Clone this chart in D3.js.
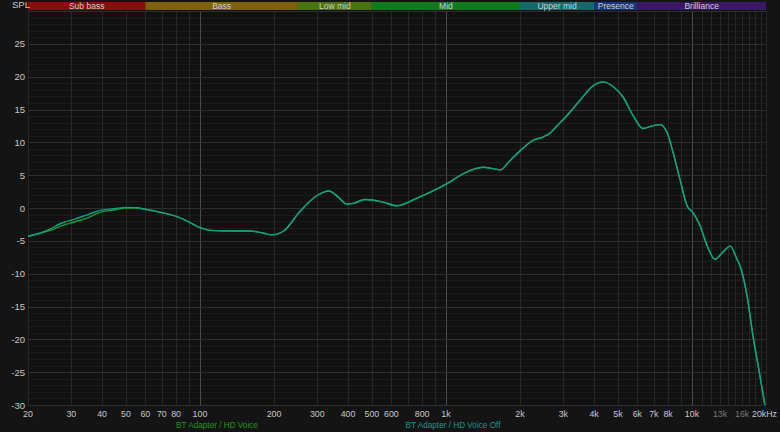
<!DOCTYPE html>
<html><head><meta charset="utf-8">
<script src="https://cdn.jsdelivr.net/npm/d3@7"></script>
<style>body{margin:0;background:#141414;}svg{display:block;font-family:"Liberation Sans",Arial,sans-serif;}</style>
</head><body><svg id="c" width="780" height="432"></svg>
<script>
const bands = [
  {name:"Sub bass", from:20, to:60, color:"#8a0c0c"},
  {name:"Bass", from:60, to:250, color:"#7c620c"},
  {name:"Low mid", from:250, to:500, color:"#4a7412"},
  {name:"Mid", from:500, to:2000, color:"#127a1c"},
  {name:"Upper mid", from:2000, to:4000, color:"#136a66"},
  {name:"Presence", from:4000, to:6000, color:"#16357a"},
  {name:"Brilliance", from:6000, to:20000, color:"#3a1866"}
];
const xTicks = [20,30,40,50,60,70,80,100,200,300,400,500,600,800,1000,2000,3000,4000,5000,6000,7000,8000,10000,13000,16000,20000];
const xTickLabels = ["20","30","40","50","60","70","80","100","200","300","400","500","600","800","1k","2k","3k","4k","5k","6k","7k","8k","10k","13k","16k","20kHz"];
const dimTicks = ["13k","16k"];
const yTicks = [-30,-25,-20,-15,-10,-5,0,5,10,15,20,25];
const freqOff = [20,24.6,27,31,35,39,45,50,55,60,70,79,90,100,110,132,160,180,196,219,254,299,335,364,396,420,469,555,632,763,886,1010,1172,1414,1550,1659,1820,2000,2258,2480,2648,2826,3106,3508,3961,4349,4777,5245,5759,6325,6882,7414,7920,8376,8934,9550,10100,10790,11510,12406,13372,14290,15250,15680,16750,17710,18900,20000];
const splOff = [-4.3,-3.2,-2.4,-1.7,-1.0,-0.4,-0.1,0.1,0.05,-0.2,-0.7,-1.2,-2.1,-3.0,-3.4,-3.5,-3.5,-3.8,-4.1,-3.5,-0.6,1.9,2.6,1.7,0.6,0.7,1.3,0.9,0.35,1.5,2.6,3.7,5.2,6.2,6.0,5.8,7.2,8.7,10.3,10.8,11.4,12.5,14.1,16.4,18.6,19.2,18.5,16.9,14.1,12.1,12.5,12.7,11.5,8.5,4.4,0.35,-0.7,-2.7,-5.7,-7.8,-6.7,-5.8,-7.8,-8.8,-13.4,-19.5,-25.6,-31];
const freqOn = freqOff;
const splOn = [-4.3,-3.4,-2.8,-2.1,-1.5,-0.7,-0.3,0.0,0.0,-0.2,-0.7,-1.2,-2.1,-3.0,-3.4,-3.5,-3.5,-3.8,-4.1,-3.5,-0.6,1.9,2.6,1.7,0.6,0.7,1.3,0.9,0.35,1.5,2.6,3.7,5.2,6.2,6.0,5.8,7.2,8.7,10.3,10.8,11.4,12.5,14.1,16.4,18.6,19.2,18.5,16.9,14.1,12.1,12.5,12.7,11.5,8.5,4.4,0.35,-0.7,-2.7,-5.7,-7.8,-6.7,-5.8,-7.8,-8.8,-13.4,-19.5,-25.6,-31];
const series = [
  {name:"BT Adapter / HD Voice", f:freqOn, v:splOn, color:"#16a02e"},
  {name:"BT Adapter / HD Voice Off", f:freqOff, v:splOff, color:"#10a088"}
];

const svg = d3.select("#c");
const L=28,R=766,T=11,B=405;
const x = d3.scaleLog().domain([20,20000]).range([L,R]);
const y = d3.scaleLinear().domain([-30,30]).range([B,T]);

svg.append("rect").attr("x",L).attr("y",T).attr("width",R-L).attr("height",B-T).attr("fill","#111111");

const g = svg.append("g");
d3.range(-30,31,1).forEach(v=>{
  if(v%5!==0) g.append("line").attr("x1",L).attr("x2",R).attr("y1",Math.round(y(v))+0.5).attr("y2",Math.round(y(v))+0.5).attr("stroke","#1b1b1b");
});
const vgrid=[];
[10,100,1000,10000].forEach(d=>{for(let k=1;k<10;k++){const f=d*k;if(f>=20&&f<=20000)vgrid.push(f);}});
[11000,12000,13000,14000,15000,16000,17000,18000,19000,20000].forEach(f=>vgrid.push(f));
vgrid.forEach(f=>{
  const major=[100,1000,10000].includes(f);
  g.append("line").attr("x1",Math.round(x(f))+0.5).attr("x2",Math.round(x(f))+0.5).attr("y1",T).attr("y2",B)
   .attr("stroke",major?"#4a4a4a":"#262626");
});
d3.range(-30,31,5).forEach(v=>{
  g.append("line").attr("x1",L).attr("x2",R).attr("y1",Math.round(y(v))+0.5).attr("y2",Math.round(y(v))+0.5).attr("stroke","#2e2e2e");
});

const bg = svg.append("g");
bands.forEach(b=>{
  bg.append("rect").attr("x",x(b.from)).attr("y",2).attr("width",x(b.to)-x(b.from)).attr("height",8).attr("fill",b.color);
  bg.append("text").attr("x",(x(b.from)+x(b.to))/2).attr("y",9).attr("text-anchor","middle")
    .attr("font-size",8.5).attr("fill","#cfcfcf").text(b.name);
});

svg.append("text").attr("x",12).attr("y",8).attr("text-anchor","start").attr("font-size",9.5).attr("fill","#c8c8c8").text("SPL");
yTicks.forEach(v=>{
  svg.append("text").attr("x",25).attr("y",y(v)+3.5).attr("text-anchor","end").attr("font-size",9.5).attr("fill","#c8c8c8").text(v);
});
xTicks.forEach((f,i)=>{
  const lab=xTickLabels[i];
  const last = i===xTicks.length-1;
  svg.append("text").attr("x",last?777:x(f)).attr("y",417).attr("text-anchor",last?"end":"middle").attr("font-size",8.8)
    .attr("fill",dimTicks.includes(lab)?"#7a7a7a":"#c8c8c8").text(lab);
});

svg.append("clipPath").attr("id","clip").append("rect").attr("x",L).attr("y",T).attr("width",R-L).attr("height",B-T);
const line = d3.line().x(d=>x(d[0])).y(d=>y(d[1])).curve(d3.curveMonotoneX);
series.forEach(s=>{
  svg.append("path").attr("clip-path","url(#clip)").attr("d",line(s.f.map((f,i)=>[f,s.v[i]])))
    .attr("fill","none").attr("stroke",s.color).attr("stroke-width",1.4);
});

svg.append("text").attr("x",217).attr("y",428).attr("text-anchor","middle").attr("font-size",8.2).attr("fill","#1c9a1c").text(series[0].name);
svg.append("text").attr("x",453).attr("y",428).attr("text-anchor","middle").attr("font-size",8.2).attr("fill","#119a8a").text(series[1].name);
</script></body></html>
